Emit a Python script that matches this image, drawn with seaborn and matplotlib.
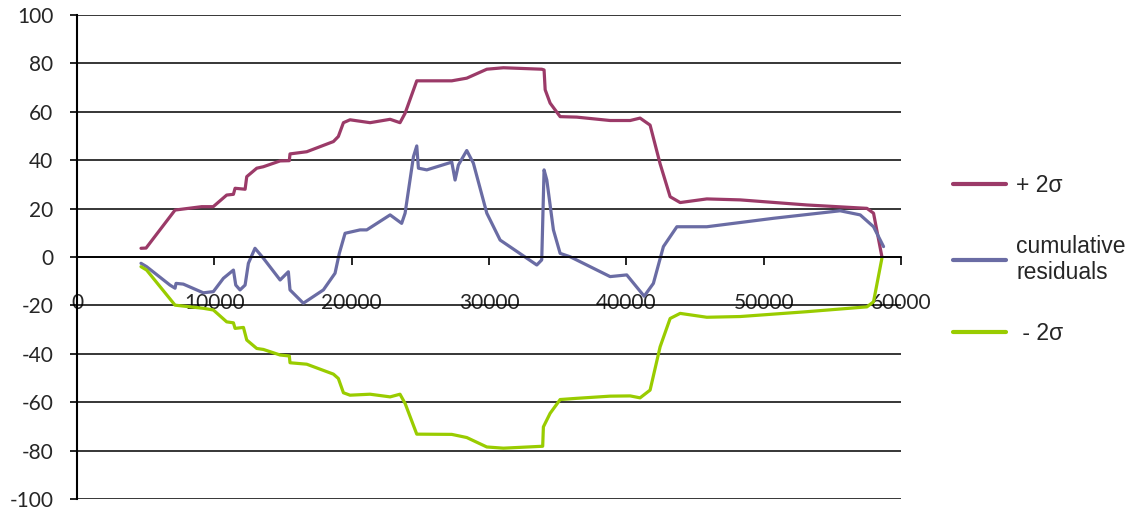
import pandas as pd
import numpy as np
import matplotlib
matplotlib.use("Agg")
import matplotlib.pyplot as plt
import seaborn as sns

# values
plus_x = [4660, 5030, 7140, 9080, 9920, 10900, 11390, 11510, 12240, 12360,
          13090, 13570, 14790, 15460, 15510, 16730, 18670, 19030, 19400, 19880,
          21340, 22800, 23520, 23890, 24740, 27290, 28380, 29840, 31050, 33840,
          34010, 34090, 34450, 35180, 36390, 38820, 40280, 41000, 41730, 42460,
          43190, 43920, 45860, 48290, 53150, 57520, 58000, 58610]
plus_y = [3.6, 3.7, 19.4, 20.8, 20.8, 25.6, 25.9, 28.4, 28.0, 33.2,
          36.7, 37.3, 39.7, 39.8, 42.6, 43.5, 47.7, 49.8, 55.5, 56.7,
          55.5, 56.9, 55.5, 59.4, 72.8, 72.8, 73.9, 77.6, 78.2, 77.6,
          77.3, 69.1, 63.6, 58.0, 57.8, 56.4, 56.4, 57.4, 54.5, 38.5,
          24.9, 22.5, 24.0, 23.6, 21.5, 20.1, 18.1, 0.1]

cum_x = [4660, 5070, 6770, 7140, 7210, 7740, 9200, 9930, 10660, 11390,
         11560, 11870, 12240, 12480, 12960, 13570, 14790, 15390, 15510, 16480,
         17940, 18790, 19100, 19520, 20610, 21100, 22800, 23640, 23890, 24500,
         24740, 24860, 25470, 27290, 27530, 27770, 28380, 28860, 29840, 30810,
         33480, 33840, 34010, 34210, 34690, 35180, 35910, 38820, 40030, 41300,
         41970, 42700, 43680, 45860, 50720, 55570, 57030, 58000, 58730]
cum_y = [-2.6, -4.0, -11.6, -12.9, -10.9, -11.2, -14.8, -14.3, -8.8, -5.4,
         -11.6, -13.6, -11.6, -2.6, 3.6, -0.5, -9.5, -6.1, -13.6, -19.1,
         -13.6, -6.7, 1.5, 9.8, 11.2, 11.2, 17.4, 13.9, 18.1, 41.5,
         45.9, 36.7, 36.0, 39.2, 31.8, 38.0, 44.0, 38.8, 18.1, 7.0,
         -3.3, -1.2, 36.0, 31.8, 11.2, 1.5, 0.1, -8.1, -7.4, -16.2,
         -10.9, 4.3, 12.5, 12.5, 16.0, 19.1, 17.4, 12.5, 4.3]

minus_x = [4660, 5070, 7140, 9200, 9930, 10900, 11390, 11510, 12120, 12360,
           13090, 13570, 14790, 15460, 15510, 16730, 18670, 19030, 19400, 19880,
           21340, 22800, 23520, 23890, 24740, 27290, 28380, 29840, 31050, 33910,
           33960, 34450, 35180, 36390, 38820, 40280, 41000, 41730, 42460, 43190,
           43920, 45860, 48290, 53150, 57520, 58000, 58610]
minus_y = [-4.0, -5.4, -19.9, -21.2, -21.9, -26.8, -27.2, -29.5, -29.1, -34.3,
           -37.8, -38.2, -40.5, -40.9, -43.7, -44.3, -48.4, -50.2, -56.1, -57.1,
           -56.7, -57.8, -56.7, -60.5, -73.2, -73.3, -74.6, -78.5, -79.0, -78.2,
           -70.2, -64.6, -58.9, -58.4, -57.5, -57.4, -58.2, -55.0, -37.1, -25.4,
           -23.3, -24.9, -24.6, -22.6, -20.6, -18.5, -0.5]

series_names = ["+ 2σ", "cumulative\nresiduals", " - 2σ"]
colors = ["#9B3A68", "#6A6CA4", "#99CC00"]

df = pd.concat([
    pd.DataFrame({"x": plus_x, "y": plus_y, "series": series_names[0]}),
    pd.DataFrame({"x": cum_x, "y": cum_y, "series": series_names[1]}),
    pd.DataFrame({"x": minus_x, "y": minus_y, "series": series_names[2]}),
])

sns.set_style("white")
plt.rcParams["axes.unicode_minus"] = False

fig = plt.figure(figsize=(11.37, 5.14), dpi=100)
ax = fig.add_axes([77 / 1137, 15 / 514, (901 - 77) / 1137, (499 - 15) / 514])

sns.lineplot(data=df, x="x", y="y", hue="series", hue_order=series_names,
             palette=dict(zip(series_names, colors)), estimator=None, sort=False,
             linewidth=2.3, legend=False, ax=ax)
for ln in ax.lines:
    ln.set_solid_joinstyle("round")
    ln.set_solid_capstyle("round")

ax.set_xlim(0, 60000)
ax.set_ylim(-100, 100)
ax.set_xticks(np.arange(0, 60001, 10000))
ax.set_yticks(np.arange(-100, 101, 20))
ax.set_xlabel("")
ax.set_ylabel("")

# horizontal gridlines
ax.yaxis.grid(True, color="black", linewidth=1.1)
ax.set_axisbelow(True)

# axis lines: x axis crosses at y = 0
ax.spines["bottom"].set_position(("data", 0))
ax.spines["bottom"].set_color("black")
ax.spines["bottom"].set_linewidth(1.3)
ax.spines["left"].set_color("black")
ax.spines["left"].set_linewidth(1.5)
ax.spines["top"].set_visible(False)
ax.spines["right"].set_visible(False)

ax.tick_params(axis="x", direction="out", length=6, width=1.2, color="black",
               pad=20, labelsize=15, bottom=True)
ax.tick_params(axis="y", direction="out", length=5, width=1.2, color="black",
               pad=12, labelsize=15, left=True)
for lab in ax.get_xticklabels() + ax.get_yticklabels():
    lab.set_fontfamily("Lato")

leg = ax.legend(handles=ax.lines[:3], labels=series_names, loc="upper left",
                bbox_to_anchor=(953 / 1137, 1 - 174 / 514),
                bbox_transform=fig.transFigure, frameon=False,
                prop={"family": "Liberation Sans", "size": 16.5},
                handlelength=2.3, handletextpad=0.45, labelspacing=1.64,
                borderpad=0, borderaxespad=0)
for h in leg.get_lines():
    h.set_linewidth(3)

fig.savefig("out.png", dpi=100)
